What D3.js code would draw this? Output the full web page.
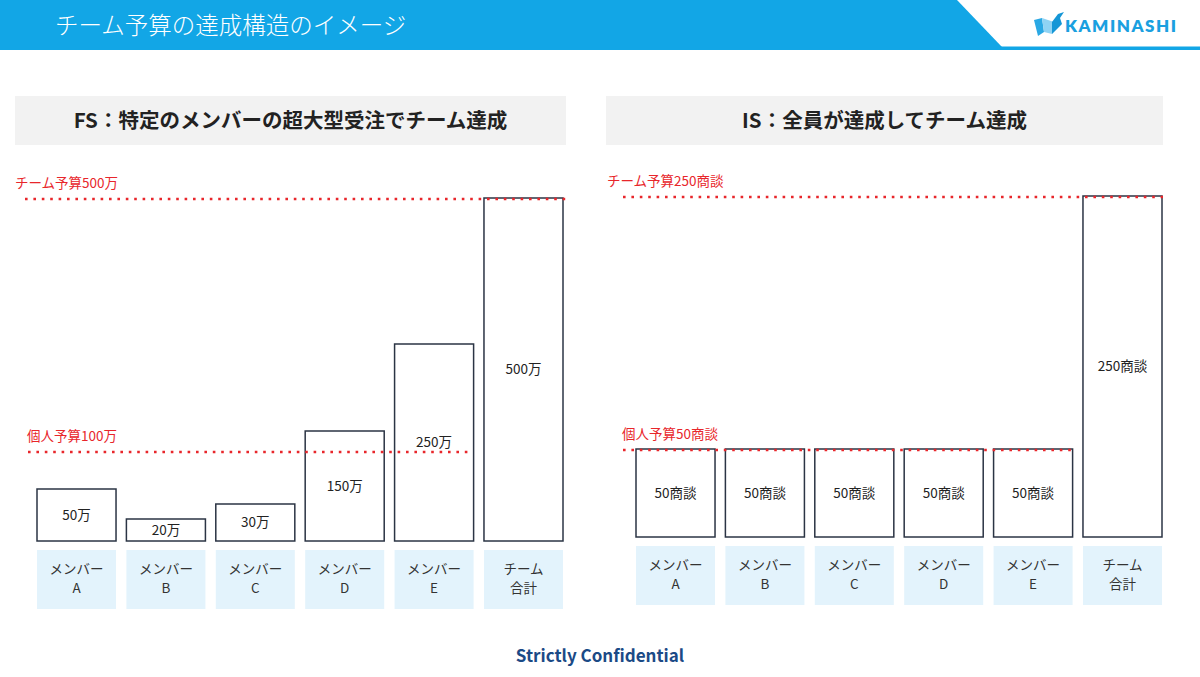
<!DOCTYPE html>
<html>
<head>
<meta charset="utf-8">
<script src="https://cdn.jsdelivr.net/npm/d3@7"></script>
<style>
    body { margin: 0; background: #fff; }
    svg { display: block; font-family: "Noto Sans CJK JP", "Noto Sans", sans-serif; }
</style>
</head>
<body>
<svg id="chart" width="1200" height="677"></svg>
<script>
// categories shared by both panels
const memberLabels = [['メンバー', 'A'], ['メンバー', 'B'], ['メンバー', 'C'], ['メンバー', 'D'], ['メンバー', 'E'], ['チーム', '合計']];

// FS panel (万)
const fsValues = [50, 20, 30, 150, 250, 500];
const fsTeamBudget = 500;
const fsPersonalBudget = 100;

// IS panel (商談)
const isValues = [50, 50, 50, 50, 50, 250];
const isTeamBudget = 250;
const isPersonalBudget = 50;

const pageTitle = 'チーム予算の達成構造のイメージ';
const fsTitle = 'FS：特定のメンバーの超大型受注でチーム達成';
const isTitle = 'IS：全員が達成してチーム達成';

const svg = d3.select('#chart');
const blue = '#12a6e6';
const red = '#e8262b';
const ink = '#2b3444';

// header band with diagonal cut
svg.append('path')
    .attr('d', 'M0,0 H957 L1002,47 V50 H0 Z')
    .attr('fill', blue);
svg.append('rect')
    .attr('x', 1000).attr('y', 46.5).attr('width', 200).attr('height', 3.5)
    .attr('fill', blue);
svg.append('text')
    .attr('x', 55).attr('y', 34)
    .attr('fill', '#fff')
    .style('font-size', '23.5px')
    .style('font-weight', 300)
    .text(pageTitle);

// logo
const logo = svg.append('g').attr('transform', 'translate(1034,12)');
logo.append('path').attr('d', 'M0,8 L8,6 L10,20 L4,24 Z').attr('fill', '#2aa8e4');
logo.append('path').attr('d', 'M8,6 L20,10 L18,22 L10,20 Z').attr('fill', '#8fd3f4');
logo.append('path').attr('d', 'M18,10 L24,2 L30,0 L26,6 L28,12 L18,22 Z').attr('fill', '#1596d6');
logo.append('text')
    .attr('x', 31).attr('y', 20)
    .attr('fill', '#1aa0e0')
    .style('font-family', 'Lato, "Noto Sans", sans-serif')
    .style('font-size', '17px')
    .style('font-weight', 800)
    .style('letter-spacing', '1.5px')
    .text('KAMINASHI');

function drawPanel (opt) {
    const g = svg.append('g');

    g.append('rect')
        .attr('x', opt.boxX0).attr('y', 96)
        .attr('width', opt.boxX1 - opt.boxX0).attr('height', 49)
        .attr('fill', '#f2f2f2');
    g.append('text')
        .attr('x', (opt.boxX0 + opt.boxX1) / 2).attr('y', 128)
        .attr('text-anchor', 'middle')
        .attr('fill', '#222')
        .style('font-size', '20.5px')
        .style('font-weight', 700)
        .text(opt.title);

    const x = d3.scaleBand()
        .domain(d3.range(opt.values.length))
        .range(opt.xRange)
        .paddingInner(0.116)
        .paddingOuter(0);

    // stylised diagram: heights are not proportional, so the scale is piecewise
    const y = d3.scaleLinear()
        .domain(opt.yDomain)
        .range(opt.yRange);

    const base = y(0);

    // category boxes
    const cats = g.selectAll('.cat')
        .data(memberLabels)
        .enter()
        .append('g')
        .attr('transform', (d, i) => 'translate(' + x(i) + ',' + (base + 9) + ')');
    cats.append('rect')
        .attr('width', x.bandwidth()).attr('height', 59)
        .attr('fill', '#e3f3fc');
    cats.selectAll('text')
        .data(d => d)
        .enter()
        .append('text')
        .attr('x', x.bandwidth() / 2)
        .attr('y', (d, i) => 24 + i * 19)
        .attr('text-anchor', 'middle')
        .attr('fill', '#333')
        .style('font-size', '13.5px')
        .text(d => d);

    // bars
    g.selectAll('.bar')
        .data(opt.values)
        .enter()
        .append('rect')
        .attr('x', (d, i) => x(i))
        .attr('y', d => y(d))
        .attr('width', x.bandwidth())
        .attr('height', d => base - y(d))
        .attr('fill', '#fff')
        .attr('stroke', ink)
        .attr('stroke-width', 1.5);

    g.selectAll('.val')
        .data(opt.values)
        .enter()
        .append('text')
        .attr('x', (d, i) => x(i) + x.bandwidth() / 2)
        .attr('y', d => (y(d) + base) / 2 + 4.5)
        .attr('text-anchor', 'middle')
        .attr('fill', '#222')
        .style('font-size', '13.5px')
        .text(d => d + opt.unit);

    // budget lines
    const lines = [
        { v: opt.team, x0: opt.teamLine[0], x1: opt.teamLine[1], lx: opt.teamLabelX, label: 'チーム予算' + opt.team + opt.unit },
        { v: opt.personal, x0: opt.personalLine[0], x1: opt.personalLine[1], lx: opt.personalLine[0] - 1, label: '個人予算' + opt.personal + opt.unit }
    ];
    g.selectAll('.budget')
        .data(lines)
        .enter()
        .append('line')
        .attr('x1', d => d.x0).attr('x2', d => d.x1)
        .attr('y1', d => y(d.v) + 1).attr('y2', d => y(d.v) + 1)
        .attr('stroke', red)
        .attr('stroke-width', 2.6)
        .attr('stroke-dasharray', '2.6 5.8');
    g.selectAll('.budgetLabel')
        .data(lines)
        .enter()
        .append('text')
        .attr('x', d => d.lx)
        .attr('y', d => y(d.v) - 10)
        .attr('fill', red)
        .style('font-size', '13.5px')
        .text(d => d.label);
}

drawPanel({
    title: fsTitle,
    values: fsValues,
    unit: '万',
    team: fsTeamBudget,
    personal: fsPersonalBudget,
    boxX0: 15, boxX1: 566,
    xRange: [37, 563],
    yDomain: [0, 20, 30, 50, 100, 150, 250, 500],
    yRange: [541, 519, 504, 489, 451, 431, 344, 198],
    teamLine: [25, 566],
    teamLabelX: 15,
    personalLine: [28, 473]
});

drawPanel({
    title: isTitle,
    values: isValues,
    unit: '商談',
    team: isTeamBudget,
    personal: isPersonalBudget,
    boxX0: 606, boxX1: 1163,
    xRange: [636, 1162],
    yDomain: [0, 50, 250],
    yRange: [537, 449, 196],
    teamLine: [623, 1163],
    teamLabelX: 607,
    personalLine: [623, 1072]
});

svg.append('text')
    .attr('x', 600).attr('y', 662)
    .attr('text-anchor', 'middle')
    .attr('fill', '#1b4a86')
    .style('font-size', '17px')
    .style('font-weight', 700)
    .text('Strictly Confidential');
</script>
</body>
</html>
